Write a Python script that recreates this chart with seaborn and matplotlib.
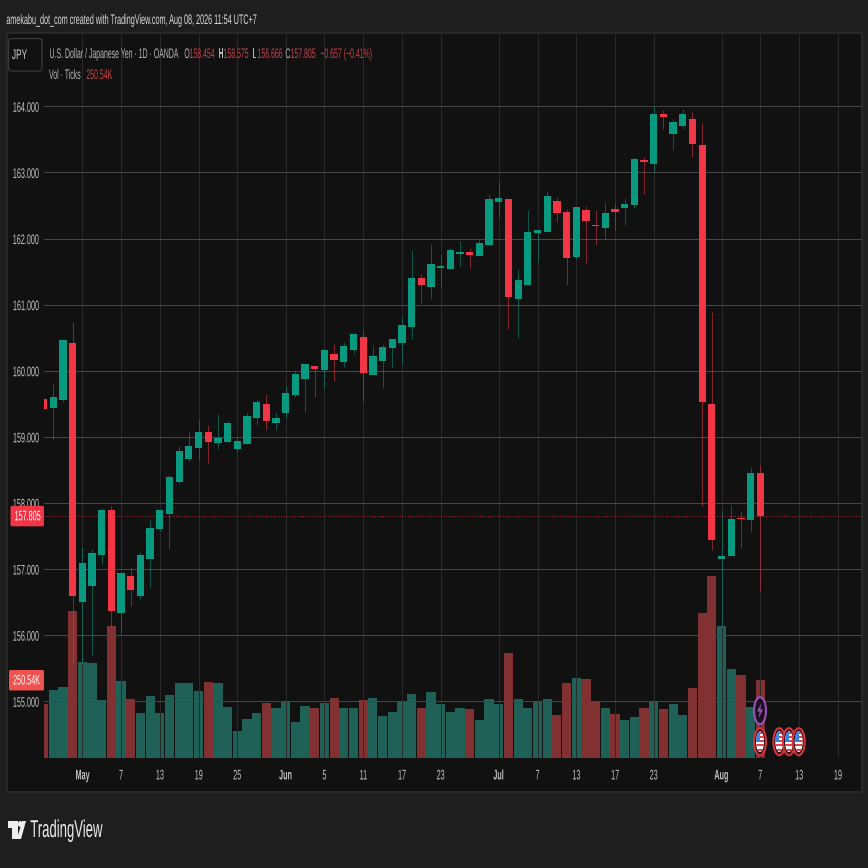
import matplotlib
matplotlib.use("Agg")
import matplotlib.pyplot as plt
import matplotlib.patheffects as pe
from matplotlib.patches import Ellipse, Polygon, Rectangle, FancyBboxPatch
from matplotlib.transforms import Affine2D, Bbox
import pandas as pd
import seaborn as sb

OPEN = [159.57, 159.43, 159.55, 160.42, 156.50, 156.74, 157.21, 157.89, 156.33, 156.89,
        156.60, 157.15, 157.60, 157.84, 158.31, 158.66, 158.83, 159.07, 158.90, 158.92,
        158.81, 158.89, 159.28, 159.49, 159.21, 159.36, 159.64, 159.87, 160.07, 160.01,
        160.26, 160.13, 160.32, 160.51, 159.93, 160.14, 160.34, 160.42, 160.66, 161.40,
        161.26, 161.55, 161.54, 161.77, 161.79, 161.73, 161.90, 162.55, 162.60, 161.08,
        161.29, 162.08, 162.10, 162.57, 162.40, 161.72, 162.43, 162.20, 162.16, 162.44,
        162.46, 162.51, 163.19, 163.13, 163.88, 163.58, 163.70, 163.81, 163.41, 159.49,
        157.15, 157.20, 157.77, 157.74, 158.454]
HIGH = [159.57, 159.80, 160.47, 160.73, 157.33, 157.31, 157.92, 157.95, 156.95, 157.01,
        157.26, 157.76, 157.90, 158.42, 158.86, 159.08, 159.25, 159.18, 159.35, 159.24,
        159.00, 159.38, 159.58, 159.65, 159.38, 159.77, 160.00, 160.10, 160.07, 160.32,
        160.40, 160.44, 160.57, 160.61, 160.39, 160.40, 160.48, 160.81, 161.82, 161.46,
        161.92, 161.76, 161.85, 161.96, 161.85, 161.99, 162.68, 162.85, 162.60, 161.54,
        162.43, 162.13, 162.72, 162.63, 162.44, 162.48, 162.49, 162.43, 162.55, 162.54,
        162.61, 163.24, 163.23, 164.00, 163.94, 163.81, 163.96, 163.91, 163.75, 160.89,
        157.89, 157.97, 157.88, 158.55, 158.575]
LOW = [159.42, 158.97, 159.53, 155.58, 155.58, 155.70, 157.07, 156.12, 156.03, 156.44,
       156.55, 156.73, 157.57, 157.31, 158.30, 158.62, 158.65, 158.60, 158.82, 158.92,
       158.77, 158.89, 159.18, 159.11, 159.10, 159.29, 159.60, 159.38, 159.60, 159.74,
       159.85, 160.06, 160.25, 159.54, 159.93, 159.74, 160.06, 160.11, 160.48, 161.01,
       161.08, 161.27, 161.54, 161.57, 161.55, 161.73, 161.90, 162.33, 160.63, 160.50,
       161.29, 161.65, 162.10, 162.25, 161.29, 161.70, 161.62, 161.90, 162.00, 162.13,
       162.20, 162.46, 162.67, 163.01, 163.66, 163.34, 163.66, 163.24, 157.95, 157.29,
       156.12, 157.20, 157.32, 157.56, 156.666]
CLOSE = [159.42, 159.61, 160.46, 156.60, 157.09, 157.25, 157.90, 156.36, 156.94, 156.68,
         157.22, 157.62, 157.89, 158.39, 158.78, 158.86, 159.08, 158.92, 158.99, 159.21,
         158.93, 159.31, 159.52, 159.24, 159.28, 159.67, 159.95, 160.10, 160.02, 160.32,
         160.17, 160.37, 160.55, 159.96, 160.23, 160.36, 160.48, 160.69, 161.41, 161.29,
         161.61, 161.58, 161.82, 161.80, 161.75, 161.94, 162.60, 162.61, 161.11, 161.38,
         162.10, 162.13, 162.64, 162.38, 161.70, 162.48, 162.26, 162.19, 162.38, 162.40,
         162.52, 163.20, 163.16, 163.88, 163.84, 163.76, 163.88, 163.43, 159.53, 157.44,
         157.20, 157.75, 157.75, 158.46, 157.805]
VOLUME = [172, 217, 227, 473, 308, 305, 185, 424, 246, 191,
          146, 198, 143, 201, 240, 240, 214, 243, 240, 165,
          87, 126, 143, 178, 162, 181, 117, 168, 159, 178,
          194, 162, 162, 185, 194, 136, 149, 184, 207, 162,
          211, 175, 149, 162, 156, 123, 188, 175, 337, 191,
          159, 184, 188, 139, 240, 256, 253, 184, 159, 140,
          123, 133, 162, 184, 156, 172, 139, 224, 467, 586,
          424, 285, 266, 165, 250.54]

PRICE_TICKS = [155, 156, 157, 158, 159, 160, 161, 162, 163, 164]
DATE_POS = [4, 8, 12, 16, 20, 25, 29, 33, 37, 41, 47, 51, 55, 59, 63, 70, 74, 78, 82]
DATE_LABELS = ["May", "7", "13", "19", "25", "Jun", "5", "11", "17", "23",
               "Jul", "7", "13", "17", "23", "Aug", "7", "13", "19"]

UP = "#089981"
DOWN = "#f23645"
PAGE = "#1e1e1e"
PANEL = "#111111"
TEXT = "#c4c4c4"
SIZE = 868


class Squeeze(pe.AbstractPathEffect):
    # the reference was squashed sideways, so narrow the glyphs, text stays text
    def __init__(self, sx, about=0.0):
        super().__init__()
        self.sx = sx
        self.about = about

    def draw_path(self, renderer, gc, tpath, affine, rgbFace=None):
        ext = tpath.get_extents()
        cx = ext.x0 + self.about * ext.width
        local = Affine2D().translate(-cx, 0).scale(self.sx, 1).translate(cx, 0)
        renderer.draw_path(gc, tpath, local + affine, rgbFace)


def squeeze(t, sx, about):
    t.set_path_effects([Squeeze(sx, about)])
    full_extent = t.get_window_extent

    # report the box that is really inked, not the unsqueezed one
    def narrow_extent(renderer=None, dpi=None):
        b = full_extent(renderer, dpi)
        x0 = b.x0 + about * b.width * (1 - sx)
        return Bbox.from_extents(x0, b.y0, x0 + b.width * sx, b.y1)

    t.get_window_extent = narrow_extent


df = pd.DataFrame({"day": range(len(OPEN)), "open": OPEN, "high": HIGH, "low": LOW,
                   "close": CLOSE, "volume": VOLUME})
df["side"] = ["up" if c >= o else "down" for o, c in zip(df["open"], df["close"])]
df["body"] = (df["close"] - df["open"]).abs()
df["base"] = df[["open", "close"]].min(axis=1)

sb.set_theme(style="dark", rc={"font.family": ["Liberation Sans", "DejaVu Sans"],
                               "figure.facecolor": PAGE})

fig = plt.figure(figsize=(SIZE / 100, SIZE / 100), dpi=100)

# page and panel, in pixel coordinates
back = fig.add_axes([0, 0, 1, 1], zorder=0)
back.set_xlim(0, SIZE)
back.set_ylim(SIZE, 0)
back.axis("off")
back.add_patch(Rectangle((6.5, 33), 855.5, 759, facecolor=PANEL, edgecolor="#2c2c2c", linewidth=1.2))

rect = [44 / SIZE, (SIZE - 758) / SIZE, (861.7 - 44) / SIZE, (758 - 34) / SIZE]
ax = fig.add_axes(rect, zorder=2)
ax_vol = ax.twinx()
ax_vol.set_zorder(1)
ax.patch.set_visible(False)
ax_vol.patch.set_visible(False)

sb.barplot(data=df, x="day", y="volume", hue="side", palette={"up": "#2d9f8e", "down": "#d74b4b"},
           native_scale=True, dodge=False, width=0.95, alpha=0.57, saturation=1, errorbar=None,
           legend=False, linewidth=0, ax=ax_vol)

for side, colour in [("up", UP), ("down", DOWN)]:
    part = df[df["side"] == side]
    ax.vlines(part["day"], part["low"], part["high"], color=colour, linewidth=0.75, alpha=0.5, zorder=0.8)
    sb.barplot(data=part, x="day", y="body", bottom=part["base"].values, native_scale=True, width=0.75,
               color=colour, saturation=1, errorbar=None, linewidth=0, ax=ax)

ax.axhline(CLOSE[-1], color=DOWN, linestyle=":", linewidth=0.7, alpha=0.7, zorder=0.9)

ax.set_xlim(0.045, 84.47)
ax.set_ylim(154.142, 165.094)
ax_vol.set_ylim(0, 2325)
ax_vol.set_yticks([])
ax_vol.set_ylabel("")
ax.set_xlabel("")
ax.set_ylabel("")

ax.set_axisbelow(True)
ax.set_yticks(PRICE_TICKS, [f"{p:.3f}" for p in PRICE_TICKS])
ax.set_xticks(DATE_POS, DATE_LABELS)
ax.grid(axis="y", color="#484848", linewidth=0.7)
ax.grid(axis="x", color="#2a2a2a", linewidth=0.7)
ax.tick_params(axis="both", length=0, colors=TEXT, labelsize=10)
ax.tick_params(axis="y", pad=3.5)
ax.tick_params(axis="x", pad=7.5)
for s in ax.spines.values():
    s.set_visible(False)
for s in ax_vol.spines.values():
    s.set_visible(False)

for lab in ax.get_yticklabels():
    squeeze(lab, 0.52, 1.0)
for lab in ax.get_xticklabels():
    squeeze(lab, 0.52, 0.5)
    if lab.get_text() in ("May", "Jun", "Jul", "Aug"):
        lab.set_fontweight("bold")

# everything that floats over the chart, again in pixels
top = fig.add_axes([0, 0, 1, 1], zorder=3)
top.set_xlim(0, SIZE)
top.set_ylim(SIZE, 0)
top.axis("off")


def label(x, y, s, color=TEXT, size=10, sx=0.5, ha="left", weight="normal"):
    about = {"left": 0.0, "center": 0.5, "right": 1.0}[ha]
    t = top.text(x, y, s, color=color, fontsize=size, ha=ha, va="center", fontweight=weight)
    squeeze(t, sx, about)
    return t


def to_px(axes, value):
    return SIZE - axes.transData.transform((1, value))[1]


label(6, 20, "amekabu_dot_com created with TradingView.com, Aug 08, 2026 11:54 UTC+7",
      color="#dddddd", sx=0.52)

top.add_patch(FancyBboxPatch((8.5, 38.5), 33.5, 32.5, boxstyle="round,pad=0,rounding_size=3",
                             facecolor="none", edgecolor="#3a3a3a", linewidth=0.9))
label(19.5, 55, "JPY", ha="center", color="#d0d0d0", sx=0.6)

RED_TEXT = "#c8404a"
label(49, 54, "U.S. Dollar / Japanese Yen · 1D · OANDA", color="#b8b8b8")
for x, letter, xv, val in [(184, "O", 189, "158.454"), (218, "H", 223, "158.575"),
                           (252, "L", 257, "156.666"), (285, "C", 290, "157.805")]:
    label(x, 54, letter, color="#b8b8b8")
    label(xv, 54, val, color=RED_TEXT)
label(320, 54, "−0.657 (−0.41%)", color=RED_TEXT)
label(49, 75, "Vol · Ticks", color="#b8b8b8")
label(86, 75, "250.54K", color=RED_TEXT)

# price and volume tags
y_close = to_px(ax, CLOSE[-1])
top.add_patch(FancyBboxPatch((10.5, y_close - 10), 33.5, 20.5, boxstyle="round,pad=0,rounding_size=1.5",
                             facecolor=DOWN, edgecolor="none"))
label(27.5, y_close + 0.5, f"{CLOSE[-1]:.3f}", color="white", ha="center", sx=0.52)
y_vol = to_px(ax_vol, VOLUME[-1])
top.add_patch(FancyBboxPatch((9, y_vol - 10), 35, 20.5, boxstyle="round,pad=0,rounding_size=1.5",
                             facecolor="#ef5350", edgecolor="none"))
label(26.5, y_vol + 0.5, "250.54K", color="white", ha="center", sx=0.52)


def flag(x, y=741.7):
    top.add_patch(Ellipse((x, y), 12, 27, facecolor=PANEL, edgecolor="#d8323f", linewidth=1.5))
    face = Ellipse((x, y), 8, 21, facecolor="white", edgecolor="none")
    top.add_patch(face)
    for dy in [-10, -6, -2, 2, 7]:
        stripe = Rectangle((x - 5, y + dy), 10, 2, facecolor="#e8404c", edgecolor="none")
        top.add_patch(stripe)
        stripe.set_clip_path(face)
    blue = Rectangle((x - 5, y - 11), 5, 10, facecolor="#3a86e8", edgecolor="none")
    top.add_patch(blue)
    blue.set_clip_path(face)


top.add_patch(Ellipse((760, 710.7), 12, 27, facecolor="#1a1020", edgecolor="#9c4fb8", linewidth=1.5))
top.add_patch(Polygon([(761.5, 703), (757, 711.5), (759.7, 711.5), (758.5, 718.5), (763, 709.5),
                       (760.3, 709.5)], facecolor="#9c4fb8", edgecolor="none"))
for xf in [760, 779.3, 789, 798.7]:
    flag(xf)

# logo
top.add_patch(Polygon([(7.5, 821), (17.5, 821), (17.5, 839), (11.5, 839), (11.5, 827.5), (7.5, 827.5)],
                      facecolor="#eeeeee", edgecolor="none"))
top.add_patch(Ellipse((20.3, 824), 4.6, 6, facecolor="#eeeeee", edgecolor="none"))
top.add_patch(Polygon([(22.3, 821), (26, 821), (21, 839), (16.8, 839)], facecolor="#eeeeee", edgecolor="none"))
label(30, 831, "TradingView", color="#eeeeee", size=17.5, sx=0.54)

fig.savefig("out.png", dpi=100, facecolor=PAGE)
